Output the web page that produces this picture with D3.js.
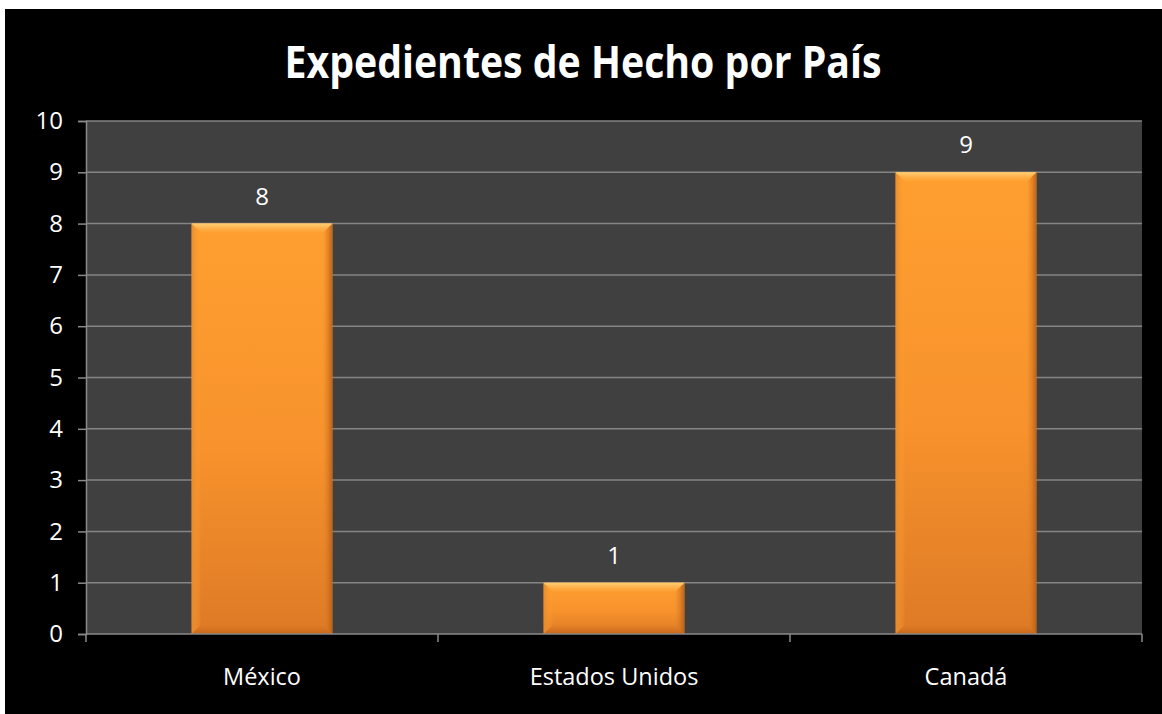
<!DOCTYPE html>
<html>
<head>
<meta charset="utf-8">
<script src="https://cdn.jsdelivr.net/npm/d3@7"></script>
<style>
  html, body { margin: 0; padding: 0; background: #ffffff; }
  svg { display: block; }
</style>
</head>
<body>
<svg id="chart" width="1162" height="714"></svg>
<script>
// Data
const title = "Expedientes de Hecho por País";
const countries = ["México", "Estados Unidos", "Canadá"];
const counts = [8, 1, 9];
const yTicks = [0, 1, 2, 3, 4, 5, 6, 7, 8, 9, 10];

const svg = d3.select("#chart");
const W = 1162, H = 714;
const font = "'Open Sans', 'Noto Sans', sans-serif";

// Black chart area
svg.append("rect").attr("x", 5).attr("y", 9).attr("width", W - 5).attr("height", H - 9).attr("fill", "#000");

const plot = { left: 86, right: 1142, top: 121, bottom: 634 };

const x = d3.scaleBand().domain(countries).range([plot.left, plot.right]).paddingInner(0.6).paddingOuter(0.3);
const xBand = d3.scaleBand().domain(countries).range([plot.left, plot.right]);
const y = d3.scaleLinear().domain([0, 10]).range([plot.bottom, plot.top]);

// Gradients
const defs = svg.append("defs");
const g1 = defs.append("linearGradient").attr("id", "barFill").attr("x1", 0).attr("y1", 0).attr("x2", 0).attr("y2", 1);
g1.append("stop").attr("offset", "0%").attr("stop-color", "#ff9f30");
g1.append("stop").attr("offset", "55%").attr("stop-color", "#f7922c");
g1.append("stop").attr("offset", "100%").attr("stop-color", "#de7a26");
const gTop = defs.append("linearGradient").attr("id", "bevelTop").attr("x1", 0).attr("y1", 0).attr("x2", 0).attr("y2", 1);
gTop.append("stop").attr("offset", "0%").attr("stop-color", "#ffd080").attr("stop-opacity", 0.95);
gTop.append("stop").attr("offset", "100%").attr("stop-color", "#ffb040").attr("stop-opacity", 0.2);
const gL = defs.append("linearGradient").attr("id", "bevelLeft").attr("x1", 0).attr("y1", 0).attr("x2", 1).attr("y2", 0);
gL.append("stop").attr("offset", "0%").attr("stop-color", "#e88a2a").attr("stop-opacity", 0.9);
gL.append("stop").attr("offset", "100%").attr("stop-color", "#ffa336").attr("stop-opacity", 0.1);
const gR = defs.append("linearGradient").attr("id", "bevelRight").attr("x1", 1).attr("y1", 0).attr("x2", 0).attr("y2", 0);
gR.append("stop").attr("offset", "0%").attr("stop-color", "#b85e18").attr("stop-opacity", 0.95);
gR.append("stop").attr("offset", "100%").attr("stop-color", "#e07f26").attr("stop-opacity", 0.1);
const gB = defs.append("linearGradient").attr("id", "bevelBottom").attr("x1", 0).attr("y1", 1).attr("x2", 0).attr("y2", 0);
gB.append("stop").attr("offset", "0%").attr("stop-color", "#c06418").attr("stop-opacity", 0.9);
gB.append("stop").attr("offset", "100%").attr("stop-color", "#d87424").attr("stop-opacity", 0.1);

// Plot background
svg.append("rect").attr("x", plot.left).attr("y", plot.top)
  .attr("width", plot.right - plot.left).attr("height", plot.bottom - plot.top).attr("fill", "#404040");

// Gridlines
svg.append("g").selectAll("line").data(yTicks.filter(d => d > 0)).join("line")
  .attr("x1", plot.left).attr("x2", plot.right)
  .attr("y1", d => y(d)).attr("y2", d => y(d))
  .attr("stroke", "#858585").attr("stroke-width", 1.5);

// Y axis
const yAxis = svg.append("g").attr("transform", `translate(${plot.left},0)`)
  .call(d3.axisLeft(y).tickValues(yTicks).tickSize(8).tickPadding(6).tickFormat(d3.format("d")));
yAxis.select(".domain").attr("stroke", "#8a8a8a").attr("stroke-width", 1.5);
yAxis.selectAll(".tick line").attr("stroke", "#8a8a8a").attr("stroke-width", 1.5);
yAxis.selectAll(".tick text").attr("fill", "#fff").attr("font-family", font).attr("font-size", 24).attr("dx", -9);

// Bars with bevel
const bw = x.bandwidth();
const bars = svg.append("g").selectAll("g").data(countries).join("g");
bars.each(function(c, i) {
  const g = d3.select(this);
  const x0 = x(c), x1 = x0 + bw, y0 = y(counts[i]), y1 = y(0);
  const b = Math.min(9, (y1 - y0) / 2);
  g.append("rect").attr("x", x0).attr("y", y0).attr("width", bw).attr("height", y1 - y0).attr("fill", "url(#barFill)");
  g.append("polygon").attr("points", [[x0, y0], [x1, y0], [x1 - b, y0 + b], [x0 + b, y0 + b]].join(" ")).attr("fill", "url(#bevelTop)");
  g.append("polygon").attr("points", [[x0, y0], [x0 + b, y0 + b], [x0 + b, y1 - b], [x0, y1]].join(" ")).attr("fill", "url(#bevelLeft)");
  g.append("polygon").attr("points", [[x1, y0], [x1 - b, y0 + b], [x1 - b, y1 - b], [x1, y1]].join(" ")).attr("fill", "url(#bevelRight)");
  g.append("polygon").attr("points", [[x0, y1], [x0 + b, y1 - b], [x1 - b, y1 - b], [x1, y1]].join(" ")).attr("fill", "url(#bevelBottom)");
  g.append("line").attr("x1", x0 + 1).attr("x2", x1 - 1).attr("y1", y0 + 1).attr("y2", y0 + 1).attr("stroke", "#ffc866").attr("stroke-width", 1.5);
});

// Value labels
svg.append("g").selectAll("text").data(countries).join("text")
  .attr("x", c => x(c) + bw / 2)
  .attr("y", (c, i) => y(counts[i]) - 19)
  .attr("text-anchor", "middle").attr("fill", "#fff")
  .attr("font-family", font).attr("font-size", 24)
  .text((c, i) => counts[i]);

// X axis
const xAxisG = svg.append("g");
xAxisG.append("line").attr("x1", plot.left).attr("x2", plot.right).attr("y1", plot.bottom).attr("y2", plot.bottom)
  .attr("stroke", "#8a8a8a").attr("stroke-width", 1.5);
const edges = countries.map(c => xBand(c)).concat([plot.right]);
xAxisG.selectAll("line.tk").data(edges).join("line").attr("class", "tk")
  .attr("x1", d => d).attr("x2", d => d).attr("y1", plot.bottom).attr("y2", plot.bottom + 8)
  .attr("stroke", "#8a8a8a").attr("stroke-width", 1.5);
xAxisG.selectAll("text").data(countries).join("text")
  .attr("x", c => xBand(c) + xBand.bandwidth() / 2).attr("y", 685)
  .attr("text-anchor", "middle").attr("fill", "#fff")
  .attr("font-family", font).attr("font-size", 23.5)
  .text(c => c);

// Title
svg.append("text").attr("x", 583).attr("y", 78).attr("text-anchor", "middle")
  .attr("fill", "#fff").attr("font-family", font).attr("font-weight", "bold")
  .attr("font-size", 44).attr("textLength", 597).attr("lengthAdjust", "spacingAndGlyphs")
  .text(title);
</script>
</body>
</html>
